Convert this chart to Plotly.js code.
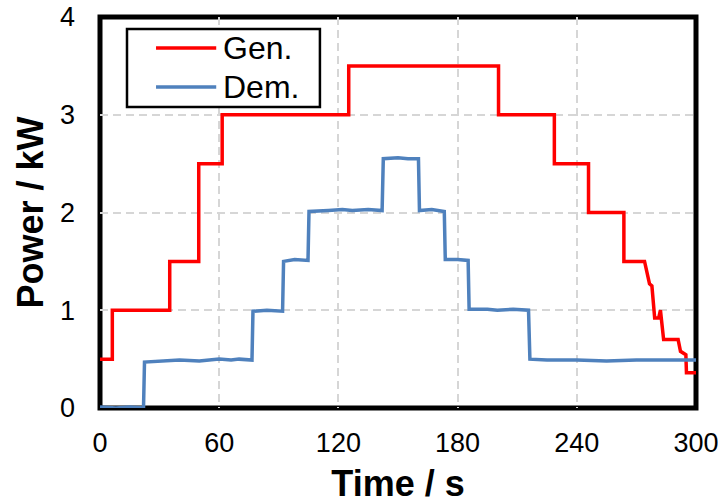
<!DOCTYPE html>
<html>
<head>
<meta charset="utf-8">
<script src="https://cdn.plot.ly/plotly-3.0.1.min.js"></script>
<style>
html,body{margin:0;padding:0;background:#fff;}
#chart{width:718px;height:504px;}
</style>
</head>
<body>
<div id="chart"></div>
<script>
// Generated power (Gen.)
const genTime = [0, 6.2, 6.2, 35.1, 35.1, 49.7, 49.7, 61.5, 61.5, 125.2, 125.2, 200.6, 200.6, 228.7, 228.7, 245.9, 245.9, 263.7, 263.7, 274.1, 276.6, 277.8, 279.2, 281.2, 282.1, 283.7, 291.0, 292.2, 294.9, 295.2, 300];
const genPower = [0.5, 0.5, 1.0, 1.0, 1.5, 1.5, 2.5, 2.5, 3.0, 3.0, 3.5, 3.5, 3.0, 3.0, 2.5, 2.5, 2.0, 2.0, 1.5, 1.5, 1.27, 1.25, 0.92, 0.92, 1.0, 0.70, 0.70, 0.58, 0.545, 0.36, 0.36];

// Demanded power (Dem.)
const demTime = [0, 8, 15, 21.9, 22.4, 30, 40, 50, 60, 66, 70, 76.5, 77.0, 84, 91.9, 92.4, 98, 104.7, 105.2, 115, 122, 127, 135, 142.0, 142.6, 150, 155, 160.3, 160.8, 167, 173.3, 173.8, 180, 185.3, 185.8, 195, 200, 208, 215.7, 216.4, 225, 240, 255, 270, 285, 300];
const demPower = [0.01, 0.0, 0.01, 0.0, 0.47, 0.48, 0.49, 0.48, 0.50, 0.49, 0.50, 0.49, 0.99, 1.00, 0.99, 1.50, 1.52, 1.51, 2.01, 2.02, 2.03, 2.02, 2.03, 2.02, 2.55, 2.56, 2.55, 2.55, 2.02, 2.03, 2.01, 1.52, 1.52, 1.51, 1.01, 1.01, 1.00, 1.01, 1.00, 0.50, 0.49, 0.49, 0.48, 0.49, 0.49, 0.49];

const xTicks = [0, 60, 120, 180, 240, 300];
const yTicks = [0, 1, 2, 3, 4];
const seriesNames = ["Gen.", "Dem."];
const seriesColors = ["#ff0000", "#4f81bd"];

const font = "Liberation Sans, Arial, sans-serif";

const traces = [
  {x: genTime, y: genPower, name: seriesNames[0], mode: "lines", line: {color: seriesColors[0], width: 3.5}},
  {x: demTime, y: demPower, name: seriesNames[1], mode: "lines", line: {color: seriesColors[1], width: 3.5}}
];

// Legend drawn as a boxed key in paper coordinates
const legBox = {x0: 0.0453, x1: 0.369, y0: 0.770, y1: 0.969};
const legRowsY = [0.921, 0.821];
const shapes = [
  {type: "rect", xref: "paper", yref: "paper", x0: 0, x1: 1, y0: 0, y1: 1,
   line: {color: "#000", width: 5}, fillcolor: "rgba(0,0,0,0)", layer: "between"},
  {type: "rect", xref: "paper", yref: "paper", x0: legBox.x0, x1: legBox.x1, y0: legBox.y0, y1: legBox.y1,
   line: {color: "#000", width: 2.5}, fillcolor: "#fff", layer: "above"}
];
const annotations = [];
seriesNames.forEach((n, i) => {
  shapes.push({type: "line", xref: "paper", yref: "paper", x0: 0.094, x1: 0.195, y0: legRowsY[i], y1: legRowsY[i],
    line: {color: seriesColors[i], width: 3.5}, layer: "above"});
  annotations.push({xref: "paper", yref: "paper", x: 0.203, y: legRowsY[i], xanchor: "left", yanchor: "middle",
    text: n, showarrow: false, font: {size: 32, family: font, color: "#000"}});
});

const layout = {
  width: 718, height: 504,
  margin: {l: 100, r: 22, t: 17, b: 96},
  paper_bgcolor: "#fff", plot_bgcolor: "#fff",
  font: {family: font, color: "#000"},
  showlegend: false,
  xaxis: {
    range: [0, 300], tickvals: xTicks, ticktext: xTicks.map(String),
    showgrid: true, gridcolor: "#d6d6d6", gridwidth: 2, griddash: "8px,5px",
    zeroline: false, showline: false, ticks: "",
    tickfont: {size: 27, family: font},
    ticklabelstandoff: 16, ticklabeloverflow: "allow",
    title: {text: "<b>Time / s</b>", font: {size: 36, family: font}, standoff: 17}
  },
  yaxis: {
    range: [0, 4], tickvals: yTicks, ticktext: yTicks.map(String),
    showgrid: true, gridcolor: "#d6d6d6", gridwidth: 2, griddash: "8px,5px",
    zeroline: false, showline: false, ticks: "",
    tickfont: {size: 27, family: font},
    ticklabelstandoff: 24, ticklabeloverflow: "allow",
    title: {text: "<b>Power / kW</b>", font: {size: 36, family: font}, standoff: 5}
  },
  shapes: shapes,
  annotations: annotations
};

Plotly.newPlot("chart", traces, layout, {staticPlot: true, displayModeBar: false});
</script>
</body>
</html>
